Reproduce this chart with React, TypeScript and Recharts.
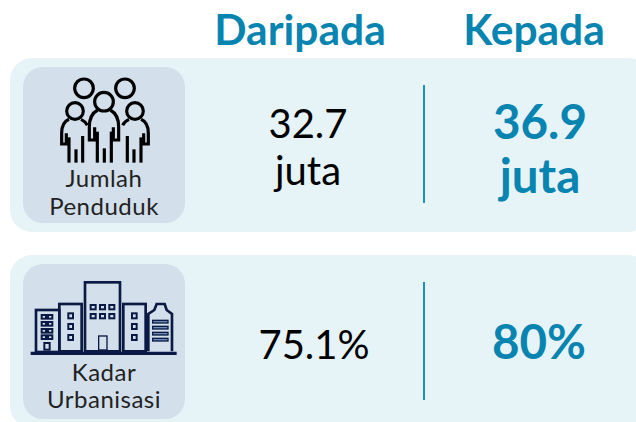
import { ReferenceLine, Scatter, ScatterChart, XAxis, YAxis } from "recharts";

const columns = ["Daripada", "Kepada"];
const rows = ["Jumlah Penduduk", "Kadar Urbanisasi"];
const fromValues = ["32.7", "75.1%"];
const toValues = ["36.9", "80%"];
const units = ["juta", ""];

const BLUE = "#0884b0";
const NAVY = "#0a1a45";
const FONT = "Lato, sans-serif";

const fromPoints = rows.map((_, i) => ({ column: 0, row: i, lines: [fromValues[i], units[i]].filter(Boolean) }));
const toPoints = rows.map((_, i) => ({ column: 1, row: i, lines: [toValues[i], units[i]].filter(Boolean) }));

// baselines relative to the row centre
function ValueText(props: any, bold: boolean) {
  const { cx, cy, payload } = props;
  const { lines } = payload;
  const size = bold ? 47.5 : 40;
  const color = bold ? BLUE : "#000";
  const offsets = lines.length > 1 ? (bold ? [-6, 48] : [-7, 40]) : [14];
  const dx = lines.length > 1 ? 0 : bold ? -1 : 6;
  return (
    <g>
      {lines.map((line: string, i: number) => (
        <text
          key={line}
          x={cx + dx}
          y={cy + offsets[i]}
          textAnchor="middle"
          fontFamily={FONT}
          fontSize={size}
          fontWeight={bold ? 700 : 400}
          fill={color}
        >
          {line}
        </text>
      ))}
    </g>
  );
}

function ColumnTick({ x, payload }: any) {
  return (
    <text
      x={x - (payload.value === 0 ? 8 : 6)}
      y={45}
      textAnchor="middle"
      fontFamily={FONT}
      fontSize={42.5}
      fontWeight={700}
      fill={BLUE}
    >
      {columns[payload.value]}
    </text>
  );
}

function PeopleIcon() {
  const person = (
    <g>
      <circle cx={225} cy={183} r={25} />
      <path d="M207 208 C190 215 185 230 185 250 L185 282 L199 282 L199 250" />
      <path d="M207 262 L207 338" />
      <path d="M228 298 L228 338" />
      <path d="M248 258 L248 338" />
      <path d="M243 208 C252 212 258 218 262 226" />
    </g>
  );
  return (
    <g transform="translate(0 50) scale(0.3333)" fill="none" stroke="#000" strokeWidth={9.5}>
      <circle cx={252} cy={115} r={28} />
      <circle cx={375} cy={115} r={28} />
      <circle cx={312} cy={155} r={28} />
      {person}
      <g transform="translate(630 0) scale(-1 1)">{person}</g>
      <path d="M293 180 C275 190 268 205 268 230 L268 270 L284 270 L284 232" />
      <path d="M331 180 C349 190 356 205 356 230 L356 270 L340 270 L340 232" />
      <path d="M292 245 L292 338" />
      <path d="M313 295 L313 338" />
      <path d="M334 245 L334 338" />
    </g>
  );
}

function BuildingIcon() {
  const win = (x: number, y: number, w = 14, h = 15) => <rect key={`${x}-${y}`} x={x} y={y} width={w} height={h} />;
  return (
    <g transform="translate(0 250) scale(0.3333)" fill="none" stroke={NAVY} strokeWidth={8}>
      <path d="M92 310 L530 310" strokeWidth={10} />
      <rect x={108} y={180} width={70} height={126} />
      <g strokeWidth={6}>
        {[195, 216, 237, 256].flatMap((y) => [win(125, y, 13, 11), win(144, y, 13, 11)])}
        <rect x={133} y={279} width={16} height={20} />
        {[190, 222, 255].map((y) => win(205, y))}
        {[165, 192].flatMap((y) => [win(272, y, 15, 13), win(300, y, 15, 13), win(328, y, 15, 13)])}
        {[190, 222, 255].map((y) => win(396, y))}
      </g>
      <rect x={178} y={162} width={67} height={142} />
      <rect x={255} y={97} width={105} height={207} />
      <rect x={296} y={258} width={25} height={42} strokeWidth={4} />
      <rect x={370} y={162} width={67} height={142} />
      <path d="M445 304 L445 192 L463 180 L470 162 L494 162 L500 180 L516 192 L516 304" />
      {[211, 229, 247, 265].map((y) => (
        <rect key={y} x={458} y={y} width={46} height={8} fill="#6d8bb5" strokeWidth={4} />
      ))}
    </g>
  );
}

const cardTop = [67, 264];
const cardHeight = [156, 155];
const labelBaselines = [
  [187, 215],
  [381, 408],
];

function RowTick({ payload }: any) {
  const i = payload.value;
  return (
    <g>
      <rect x={23} y={cardTop[i]} width={162} height={cardHeight[i]} rx={20} fill="#d3e0eb" />
      {i === 0 ? <PeopleIcon /> : <BuildingIcon />}
      {rows[i].split(" ").map((word, k) => (
        <text
          key={word}
          x={104}
          y={labelBaselines[i][k]}
          textAnchor="middle"
          fontFamily={FONT}
          fontSize={24}
          letterSpacing={0.5}
          fill="#222"
        >
          {word}
        </text>
      ))}
    </g>
  );
}

export default function App() {
  return (
    <div style={{ position: "absolute", left: 0, top: 0 }}>
      <ScatterChart width={636} height={422} margin={{ top: 0, right: 0, bottom: 0, left: 0 }}>
        {/* row panels, they run past the right and bottom edges */}
        <rect x={10} y={58} width={640} height={174} rx={22} fill="#e6f3f7" />
        <rect x={10} y={255} width={640} height={173} rx={22} fill="#e6f3f7" />
        <XAxis
          type="number"
          dataKey="column"
          orientation="top"
          mirror
          domain={[-1.3276, 1.4138]}
          ticks={[0, 1]}
          interval={0}
          axisLine={false}
          tickLine={false}
          tick={(p: any) => <ColumnTick {...p} />}
        />
        <YAxis
          type="number"
          dataKey="row"
          mirror
          reversed
          domain={[-0.725, 1.385]}
          ticks={[0, 1]}
          interval={0}
          axisLine={false}
          tickLine={false}
          tick={(p: any) => <RowTick {...p} />}
        />
        <ReferenceLine segment={[{ x: 0.5, y: -0.3 }, { x: 0.5, y: 0.29 }]} stroke={BLUE} strokeWidth={1.8} />
        <ReferenceLine segment={[{ x: 0.5, y: 0.685 }, { x: 0.5, y: 1.275 }]} stroke={BLUE} strokeWidth={1.8} />
        <Scatter data={fromPoints} isAnimationActive={false} shape={(p: any) => ValueText(p, false)} />
        <Scatter data={toPoints} isAnimationActive={false} shape={(p: any) => ValueText(p, true)} />
      </ScatterChart>
    </div>
  );
}
